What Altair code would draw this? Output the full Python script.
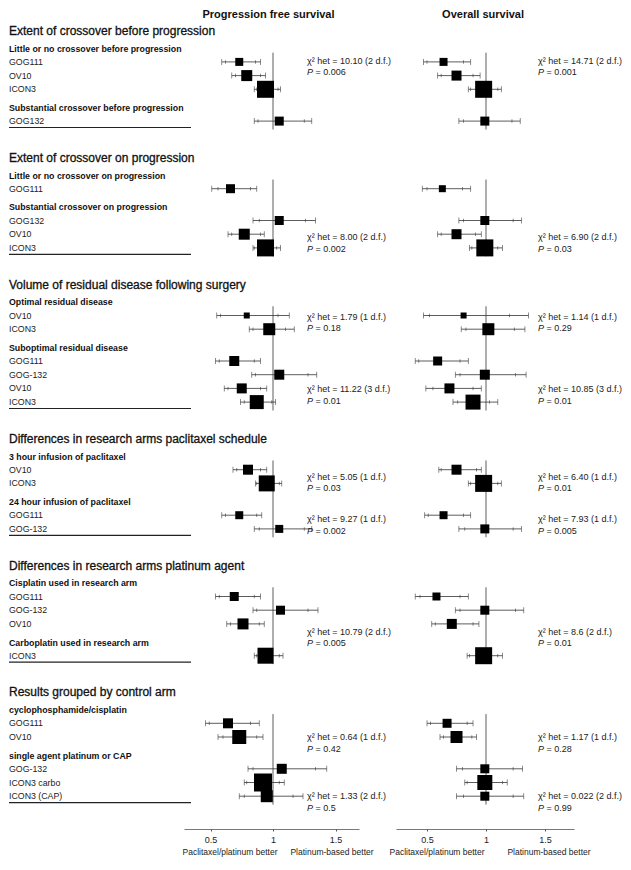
import altair as alt
import pandas as pd

FONT = "Liberation Sans"

SECTIONS = [
    "Extent of crossover before progression",
    "Extent of crossover on progression",
    "Volume of residual disease following surgery",
    "Differences in research arms paclitaxel schedule",
    "Differences in research arms platinum agent",
    "Results grouped by control arm",
]
SUBGROUP_SECTION = [0, 0, 1, 1, 2, 2, 3, 3, 4, 4, 5, 5]
SUBGROUP_TITLES = [
    "Little or no crossover before progression",
    "Substantial crossover before progression",
    "Little or no crossover on progression",
    "Substantial crossover on progression",
    "Optimal residual disease",
    "Suboptimal residual disease",
    "3 hour infusion of paclitaxel",
    "24 hour infusion of paclitaxel",
    "Cisplatin used in research arm",
    "Carboplatin used in research arm",
    "cyclophosphamide/cisplatin",
    "single agent platinum or CAP",
]
SUBGROUP_TRIALS = [
    ["GOG111", "OV10", "ICON3"],
    ["GOG132"],
    ["GOG111"],
    ["GOG132", "OV10", "ICON3"],
    ["OV10", "ICON3"],
    ["GOG111", "GOG-132", "OV10", "ICON3"],
    ["OV10", "ICON3"],
    ["GOG111", "GOG-132"],
    ["GOG111", "GOG-132", "OV10"],
    ["ICON3"],
    ["GOG111", "OV10"],
    ["GOG-132", "ICON3 carbo", "ICON3 (CAP)"],
]

# Progression free survival (hazard ratios)
PFS_LO99 = [0.59, 0.67, 0.85, 0.85, 0.51, 0.84, 0.64, 0.84, 0.55, 0.81, 0.54, 0.83, 0.61, 0.74,
            0.68, 0.86, 0.59, 0.85, 0.54, 0.84, 0.63, 0.85, 0.46, 0.56, 0.80, 0.77, 0.73]
PFS_LO95 = [0.62, 0.70, 0.87, 0.88, 0.56, 0.89, 0.67, 0.85, 0.58, 0.84, 0.57, 0.86, 0.64, 0.77,
            0.71, 0.87, 0.62, 0.89, 0.57, 0.87, 0.66, 0.87, 0.49, 0.60, 0.84, 0.79, 0.77]
PFS_EST = [0.73, 0.79, 0.94, 1.05, 0.66, 1.05, 0.77, 0.94, 0.79, 0.97, 0.69, 1.05, 0.75, 0.87,
           0.80, 0.95, 0.73, 1.05, 0.69, 1.06, 0.76, 0.94, 0.64, 0.73, 1.07, 0.92, 0.95]
PFS_HI95 = [0.86, 0.90, 1.04, 1.25, 0.82, 1.26, 0.90, 1.03, 1.04, 1.10, 0.85, 1.28, 0.90, 0.99,
            0.90, 1.05, 0.87, 1.25, 0.85, 1.28, 0.89, 1.05, 0.82, 0.87, 1.34, 1.05, 1.16]
PFS_HI99 = [0.90, 0.94, 1.06, 1.31, 0.87, 1.34, 0.93, 1.06, 1.13, 1.17, 0.90, 1.35, 0.95, 1.02,
            0.95, 1.07, 0.91, 1.31, 0.90, 1.36, 0.93, 1.08, 0.89, 0.92, 1.43, 1.09, 1.24]
PFS_WEIGHT = [8, 11, 17, 9, 9, 9, 11, 17, 6, 12, 10, 10, 10, 14,
              10, 16, 8, 8, 9, 9, 11, 16, 10, 14, 10, 18, 12]

# Overall survival (hazard ratios)
OS_LO99 = [0.47, 0.59, 0.85, 0.77, 0.46, 0.77, 0.59, 0.86, 0.47, 0.79, 0.40, 0.74, 0.49, 0.72,
           0.60, 0.85, 0.48, 0.77, 0.40, 0.74, 0.54, 0.84, 0.50, 0.61, 0.75, 0.82, 0.75]
OS_LO95 = [0.50, 0.62, 0.87, 0.81, 0.50, 0.81, 0.62, 0.88, 0.52, 0.83, 0.43, 0.78, 0.55, 0.76,
           0.62, 0.87, 0.51, 0.82, 0.44, 0.78, 0.57, 0.86, 0.53, 0.64, 0.80, 0.84, 0.81]
OS_EST = [0.64, 0.75, 0.98, 0.99, 0.63, 0.99, 0.75, 0.99, 0.81, 1.02, 0.59, 0.99, 0.69, 0.89,
          0.75, 0.98, 0.64, 0.99, 0.58, 0.99, 0.71, 0.98, 0.67, 0.75, 0.99, 0.99, 0.99]
OS_HI95 = [0.81, 0.89, 1.10, 1.22, 0.80, 1.23, 0.91, 1.10, 1.20, 1.24, 0.78, 1.25, 0.89, 1.03,
           0.92, 1.10, 0.81, 1.23, 0.78, 1.25, 0.89, 1.10, 0.84, 0.88, 1.23, 1.14, 1.23]
OS_HI99 = [0.87, 0.95, 1.13, 1.29, 0.87, 1.30, 0.96, 1.14, 1.36, 1.33, 0.85, 1.34, 0.96, 1.10,
           0.96, 1.13, 0.87, 1.30, 0.85, 1.32, 0.94, 1.14, 0.89, 0.92, 1.31, 1.18, 1.32]
OS_WEIGHT = [8, 10, 17, 9, 7, 9, 10, 17, 6, 12, 9, 10, 10, 15,
             10, 17, 8, 9, 8, 9, 10, 17, 9, 12, 9, 15, 9]

# Heterogeneity tests
PFS_CHI = ["10.10 (2 d.f.)", "8.00 (2 d.f.)", "1.79 (1 d.f.)", "11.22 (3 d.f.)", "5.05 (1 d.f.)",
           "9.27 (1 d.f.)", "10.79 (2 d.f.)", "0.64 (1 d.f.)", "1.33 (2 d.f.)"]
PFS_P = ["0.006", "0.002", "0.18", "0.01", "0.03", "0.002", "0.005", "0.42", "0.5"]
OS_CHI = ["14.71 (2 d.f.)", "6.90 (2 d.f.)", "1.14 (1 d.f.)", "10.85 (3 d.f.)", "6.40 (1 d.f.)",
          "7.93 (1 d.f.)", "8.6 (2 d.f.)", "1.17 (1 d.f.)", "0.022 (2 d.f.)"]
OS_P = ["0.001", "0.03", "0.29", "0.01", "0.01", "0.005", "0.01", "0.28", "0.99"]
CHI_ROW = [0, 6, 8, 12, 14, 16, 20, 23, 26]
CHI_DY = [-1, 3, 1, 1, 7, 4, 8, 0, 0]

TICKS = [0.5, 1, 1.5]

# ---------------- layout (vertical positions in px units) ----------------
A_HEAD, B_SUB, C_ROW, D_SUB2, E_LINE, F_NEXT = 17.7, 13.2, 13.7, 18.6, 6.4, 30.3
H = 821
y = 23.0
heads, subs, trials, lines, refs = [], [], [], [], []
for s, title in enumerate(SECTIONS):
    heads.append({"text": title, "y": y})
    y += A_HEAD
    first_sub = y
    groups = [g for g in range(len(SUBGROUP_TITLES)) if SUBGROUP_SECTION[g] == s]
    for k, g in enumerate(groups):
        if k > 0:
            y += D_SUB2
        subs.append({"text": SUBGROUP_TITLES[g], "y": y})
        y += B_SUB
        for i, t in enumerate(SUBGROUP_TRIALS[g]):
            if i > 0:
                y += C_ROW
            trials.append({"text": t, "y": y})
    line_y = y + E_LINE
    lines.append({"y": line_y})
    refs.append({"y": first_sub + 4, "y2": line_y + 2, "ref": 1.0})
    y = line_y + F_NEXT

heads_df = pd.DataFrame(heads)
subs_df = pd.DataFrame(subs)
trials_df = pd.DataFrame(trials)
lines_df = pd.DataFrame(lines)
refs_df = pd.DataFrame(refs)

yscale = alt.Scale(domain=[0, H], reverse=True, nice=False, zero=False)
Y = lambda f: alt.Y(f, type="quantitative", scale=yscale, axis=None)

# ---------------- labels panel ----------------
lab_head = alt.Chart(heads_df).mark_text(
    align="left", baseline="middle", font=FONT, fontSize=12, color="#111",
    stroke="#111", strokeWidth=0.3
).encode(x=alt.value(0), y=Y("y"), text="text:N")
lab_sub = alt.Chart(subs_df).mark_text(
    align="left", baseline="middle", font=FONT, fontSize=8.8, fontWeight="bold", color="#111"
).encode(x=alt.value(0), y=Y("y"), text="text:N")
lab_row = alt.Chart(trials_df).mark_text(
    align="left", baseline="middle", font=FONT, fontSize=8.8, color="#222"
).encode(x=alt.value(0), y=Y("y"), text="text:N")
lab_line = alt.Chart(lines_df).mark_rule(color="#222", strokeWidth=1.2).encode(
    x=alt.value(0), x2=alt.value(182), y=Y("y")
)
labels = alt.layer(lab_head, lab_sub, lab_row, lab_line).properties(width=138, height=H)


def panel(title, lo99, lo95, est, hi95, hi99, weight, chi, pv, domain, width,
          chi_x, title_x, left_x, right_x):
    df = pd.DataFrame({
        "y": trials_df["y"], "lo99": lo99, "lo95": lo95, "est": est,
        "hi95": hi95, "hi99": hi99, "w": weight,
    })
    df["area"] = df["w"] ** 2
    caps = pd.concat([
        pd.DataFrame({"y": df["y"], "v": df["lo99"]}),
        pd.DataFrame({"y": df["y"], "v": df["hi99"]}),
    ])
    inner = pd.concat([
        pd.DataFrame({"y": df["y"], "v": df["lo95"]}),
        pd.DataFrame({"y": df["y"], "v": df["hi95"]}),
    ])
    chi_df = pd.DataFrame({
        "y": [trials_df["y"][r] + d for r, d in zip(CHI_ROW, CHI_DY)],
        "chi": ["\u03c7\u00b2 het = " + c for c in chi],
        "p": ["= " + p for p in pv],
    })
    chi_df["yp"] = chi_df["y"] + 11.5

    xs = alt.Scale(domain=domain, nice=False, zero=False)
    xaxis = alt.Axis(
        values=TICKS, format="~g", title=None, grid=False, domainColor="#555",
        domainWidth=0.8, tickColor="#555", tickSize=2, labelFontSize=9,
        labelFont=FONT, labelColor="#222", labelPadding=4)
    X = lambda f: alt.X(f, type="quantitative", scale=xs, axis=xaxis, title=None)

    ref = alt.Chart(refs_df).mark_rule(color="#333", strokeWidth=0.8).encode(
        x=X("ref"), y=Y("y"), y2="y2:Q")
    ci = alt.Chart(df).mark_rule(color="#333", strokeWidth=0.8).encode(
        x=X("lo99"), x2="hi99:Q", y=Y("y"))
    cap = alt.Chart(caps).mark_tick(orient="vertical", size=6, thickness=0.8, color="#333").encode(
        x=X("v"), y=Y("y"))
    inn = alt.Chart(inner).mark_tick(orient="vertical", size=3.5, thickness=0.8, color="#333").encode(
        x=X("v"), y=Y("y"))
    sq = alt.Chart(df).mark_square(color="#000", opacity=1, filled=True).encode(
        x=X("est"), y=Y("y"), size=alt.Size("area:Q", scale=None, legend=None))
    chi_t = alt.Chart(chi_df).mark_text(
        align="left", baseline="middle", font=FONT, fontSize=9, color="#222"
    ).encode(x=alt.value(chi_x), y=Y("y"), text="chi:N")
    p_t = alt.Chart(chi_df).mark_text(
        align="left", baseline="middle", font=FONT, fontSize=9, fontStyle="italic", color="#222"
    ).encode(x=alt.value(chi_x), y=Y("yp"), text=alt.value("P"))
    p_v = alt.Chart(chi_df).mark_text(
        align="left", baseline="middle", font=FONT, fontSize=9, color="#222", dx=8.5
    ).encode(x=alt.value(chi_x), y=Y("yp"), text="p:N")
    ttl = alt.Chart(pd.DataFrame({"t": [title], "x": [title_x], "y": [7]})).mark_text(
        align="center", baseline="middle", font=FONT, fontSize=11, fontWeight="bold", color="#111"
    ).encode(x=X("x"), y=Y("y"), text="t:N")
    axt = alt.Chart(pd.DataFrame({
        "t": ["Paclitaxel/platinum better", "Platinum-based better"],
        "x": [left_x, right_x], "y": [844, 844]})).mark_text(
        align="center", baseline="middle", font=FONT, fontSize=8.5, color="#222"
    ).encode(x=X("x"), y=Y("y"), text="t:N")
    return alt.layer(ref, ci, cap, inn, sq, chi_t, p_t, p_v, ttl, axt).properties(
        width=width, height=H)


pfs = panel("Progression free survival", PFS_LO99, PFS_LO95, PFS_EST, PFS_HI95, PFS_HI99,
            PFS_WEIGHT, PFS_CHI, PFS_P, [0.288, 1.688], 175, 123, 0.964, 0.656, 1.472)
os_ = panel("Overall survival", OS_LO99, OS_LO95, OS_EST, OS_HI95, OS_HI99,
            OS_WEIGHT, OS_CHI, OS_P, [0.237, 1.746], 178, 142, 0.975, 0.585, 1.534)

chart = alt.hconcat(labels, pfs, os_, spacing=37, bounds="flush").properties(
    padding=0, background="white"
).configure_view(stroke=None)

chart.save("out.html", embed_options={"renderer": "svg", "actions": False})
